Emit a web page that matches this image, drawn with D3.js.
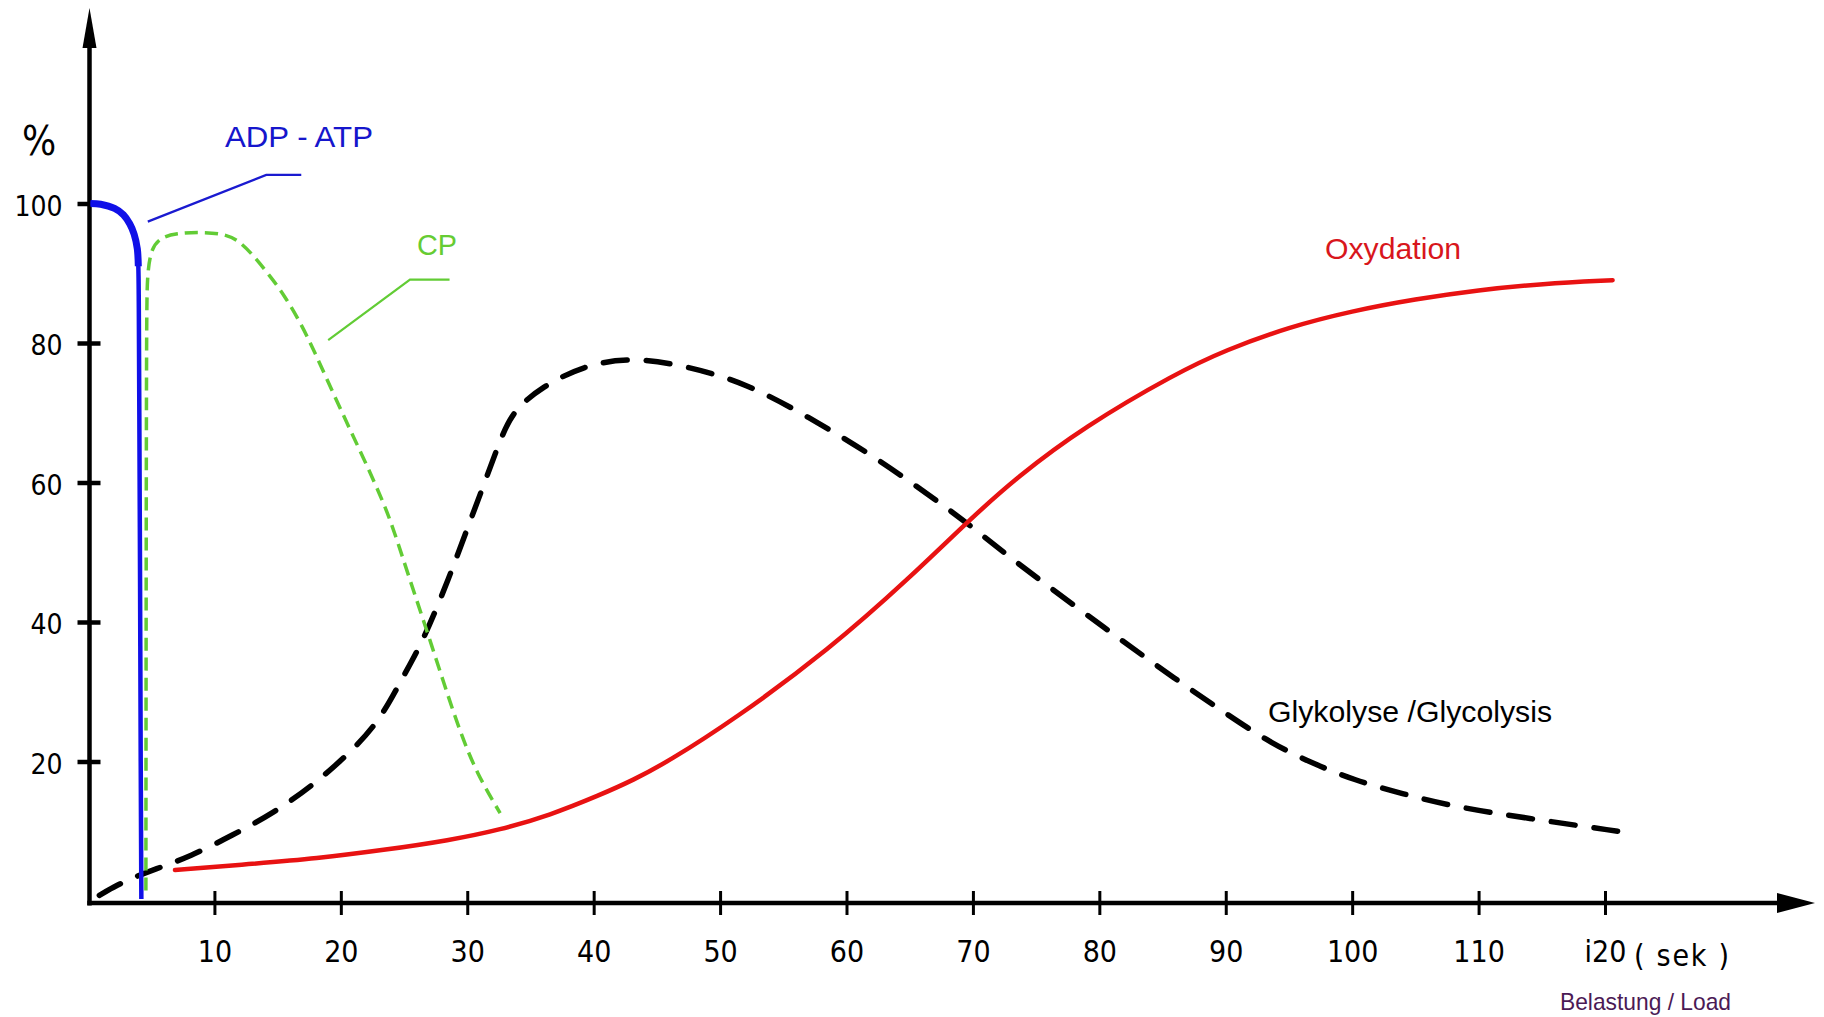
<!DOCTYPE html>
<html>
<head>
<meta charset="utf-8">
<script src="https://cdn.jsdelivr.net/npm/d3@7"></script>
<style>
  body { margin: 0; background: #fff; }
  svg { display: block; background: #fff; }
  .axis-font { font-family: "DejaVu Sans Condensed", "DejaVu Sans", sans-serif; font-stretch: condensed; }
  .note { font-family: "Liberation Sans", Arial, sans-serif; }
</style>
</head>
<body>
<svg id="chart" width="1824" height="1017"></svg>
<script>
// x = time (sek), y = share of energy supply (%)
const xTicks = [10, 20, 30, 40, 50, 60, 70, 80, 90, 100, 110, 120];
const xTickLabels = ["10", "20", "30", "40", "50", "60", "70", "80", "90", "100", "110", "i20"];
const yTicks = [20, 40, 60, 80, 100];
const yTickLabels = ["20", "40", "60", "80", "100"];

// ADP - ATP
const adpAtp = [[0.2, 100], [1.0, 99.9], [2.1, 99.3], [2.8, 98.4], [3.3, 97.1], [3.65, 95.6],
  [3.9, 93.5], [3.98, 91], [4.02, 85], [4.06, 70], [4.12, 45], [4.17, 20], [4.22, 0.3]];

// CP
const cp = [[4.58, 1.5], [4.6, 45], [4.63, 85], [4.7, 90], [5.0, 93.6], [5.8, 95.2], [7.0, 95.7],
  [8.7, 95.9], [10.8, 95.7], [12.0, 94.6], [13.2, 92.3], [14.3, 89.8], [15.45, 87.1], [17.0, 82.3],
  [18.1, 78.0], [19.4, 72.8], [20.7, 67.7], [22.05, 62.5], [23.4, 57.0], [24.15, 53.4], [25.47, 46.0],
  [26.8, 38.8], [28.1, 31.5], [29.4, 24.4], [30.75, 18.3], [32.6, 12.6]];

// Glykolyse / Glycolysis
const glycolysis = [[0.9, 0.8], [2.3, 2.3], [3.8, 3.5], [5.2, 4.5], [8.07, 6.35], [11.5, 9.5],
  [14.66, 12.6], [17.8, 16.6], [20.7, 21.2], [23.1, 25.9], [24.9, 32.1], [26.5, 37.2], [28.6, 46.5],
  [29.96, 53.2], [31.3, 59.6], [32.7, 66.6], [33.7, 70.4], [35.9, 73.7], [39.2, 76.8], [43.1, 78.0],
  [47.6, 76.6], [52.1, 74.2], [57, 69.4], [61.8, 64.2], [66.7, 58], [69.9, 53.7], [73.5, 48.4],
  [80.6, 38.9], [86.1, 31.7], [90.4, 26.4], [93.6, 22.6], [96.9, 19.7], [100.2, 17.3], [103.9, 15.4],
  [108.1, 13.5], [113.7, 11.9], [121.4, 9.9]];

// Oxydation
const oxidation = [[6.88, 4.44], [12.8, 5.3], [18.1, 6.1], [23.4, 7.3], [28.6, 8.7], [32.6, 10.2],
  [36.55, 12.3], [40.5, 15.2], [43.1, 17.3], [45.9, 20.0], [51.1, 26], [58.6, 36], [65.1, 46.5],
  [69.7, 54.6], [73.5, 60.8], [78.8, 68], [86.1, 75.7], [90, 79], [95, 82.3], [100, 84.6],
  [105, 86.3], [110, 87.6], [115, 88.5], [120.6, 89]];

const svg = d3.select("#chart");

const x = d3.scaleLinear().domain([0, 120]).range([88, 1605]);
const y = d3.scaleLinear().domain([0, 100]).range([901, 203.5]);

const axisX = 89.5;   // where the y axis line sits
const axisY = 903;    // where the x axis line sits

// axes lines + arrow heads
svg.append("line")
  .attr("x1", axisX).attr("y1", axisY + 2.5)
  .attr("x2", axisX).attr("y2", 46)
  .attr("stroke", "#000").attr("stroke-width", 4.5);
svg.append("path")
  .attr("d", `M${axisX},8 L${axisX + 7},48 L${axisX - 7},48 Z`)
  .attr("fill", "#000");

svg.append("line")
  .attr("x1", axisX - 2.2).attr("y1", axisY)
  .attr("x2", 1780).attr("y2", axisY)
  .attr("stroke", "#000").attr("stroke-width", 4.5);
svg.append("path")
  .attr("d", `M1815,${axisY} L1777,${axisY - 10} L1777,${axisY + 10} Z`)
  .attr("fill", "#000");

// x axis ticks
const gx = svg.append("g")
  .attr("class", "axis-font")
  .attr("transform", `translate(0,${axisY})`)
  .call(d3.axisBottom(x).tickValues(xTicks).tickFormat((d, i) => xTickLabels[i]).tickSize(12));
gx.select(".domain").remove();
gx.selectAll(".tick line")
  .attr("y1", -12).attr("y2", 12)
  .attr("stroke", "#000").attr("stroke-width", 3);
gx.selectAll(".tick text")
  .attr("y", 59).attr("dy", 0)
  .attr("fill", "#000")
  .attr("font-size", 30);

// y axis ticks
const gy = svg.append("g")
  .attr("class", "axis-font")
  .attr("transform", `translate(${axisX},0)`)
  .call(d3.axisLeft(y).tickValues(yTicks).tickFormat((d, i) => yTickLabels[i]).tickSize(12));
gy.select(".domain").remove();
gy.selectAll(".tick line")
  .attr("x1", -12).attr("x2", 11)
  .attr("stroke", "#000").attr("stroke-width", 4.5);
gy.selectAll(".tick text")
  .attr("x", -27).attr("dy", 0).attr("y", 11.5)
  .attr("fill", "#000")
  .attr("font-size", 28);

// unit labels
svg.append("text")
  .attr("class", "axis-font")
  .attr("x", 39).attr("y", 155)
  .attr("text-anchor", "middle")
  .attr("font-size", 40)
  .text("%");

svg.append("text")
  .attr("class", "axis-font")
  .attr("x", 1634).attr("y", 966)
  .attr("font-size", 30)
  .attr("textLength", 95)
  .text("( sek )");

// smooth curves for the hand-drawn lines, catmull-rom for the sharp ATP drop
const smooth = d3.line()
  .x(d => x(d[0]))
  .y(d => y(d[1]))
  .curve(d3.curveBasis);
const sharp = d3.line()
  .x(d => x(d[0]))
  .y(d => y(d[1]))
  .curve(d3.curveCatmullRom.alpha(0.5));

// curves
svg.append("path")
  .datum(glycolysis)
  .attr("d", smooth)
  .attr("fill", "none")
  .attr("stroke", "#000")
  .attr("stroke-width", 5.5)
  .attr("stroke-linecap", "round")
  .attr("stroke-dasharray", "24,19");

svg.append("path")
  .datum(oxidation)
  .attr("d", smooth)
  .attr("fill", "none")
  .attr("stroke", "#e81212")
  .attr("stroke-width", 4.5)
  .attr("stroke-linecap", "round");

svg.append("path")
  .datum(cp)
  .attr("d", smooth)
  .attr("fill", "none")
  .attr("stroke", "#62cc35")
  .attr("stroke-width", 3.5)
  .attr("stroke-dasharray", "13,7");

svg.append("path")
  .datum(adpAtp)
  .attr("d", sharp)
  .attr("fill", "none")
  .attr("stroke", "#1010e8")
  .attr("stroke-width", 4.5);
svg.append("path")
  .datum(adpAtp.filter(d => d[1] >= 90))
  .attr("d", sharp)
  .attr("fill", "none")
  .attr("stroke", "#1010e8")
  .attr("stroke-width", 7);

// leader lines (in data units)
const leaders = [
  { pts: [[4.73, 97.4], [14.1, 104.1], [16.87, 104.1]], color: "#1a1ad0" },
  { pts: [[19.0, 80.4], [25.47, 89.1], [28.6, 89.1]], color: "#62cc35" }
];
const straight = d3.line().x(d => x(d[0])).y(d => y(d[1]));
leaders.forEach(l => {
  svg.append("path")
    .attr("d", straight(l.pts))
    .attr("fill", "none")
    .attr("stroke", l.color)
    .attr("stroke-width", 2.2);
});

// series labels
const notes = [
  { text: "ADP - ATP", x: 225, y: 146.5, size: 30, len: 148, color: "#1616cc" },
  { text: "CP", x: 417, y: 255, size: 30, len: 40, color: "#66cc33" },
  { text: "Oxydation", x: 1325, y: 259, size: 30, len: 136, color: "#d8161c" },
  { text: "Glykolyse /Glycolysis", x: 1268, y: 721.5, size: 29, len: 284, color: "#000" },
  { text: "Belastung / Load", x: 1560, y: 1010, size: 24, len: 171, color: "#4b1a55" }
];
svg.selectAll("text.note")
  .data(notes)
  .enter()
  .append("text")
  .attr("class", "note")
  .attr("x", d => d.x)
  .attr("y", d => d.y)
  .attr("font-size", d => d.size)
  .attr("textLength", d => d.len)
  .attr("lengthAdjust", "spacingAndGlyphs")
  .attr("fill", d => d.color)
  .text(d => d.text);
</script>
</body>
</html>
